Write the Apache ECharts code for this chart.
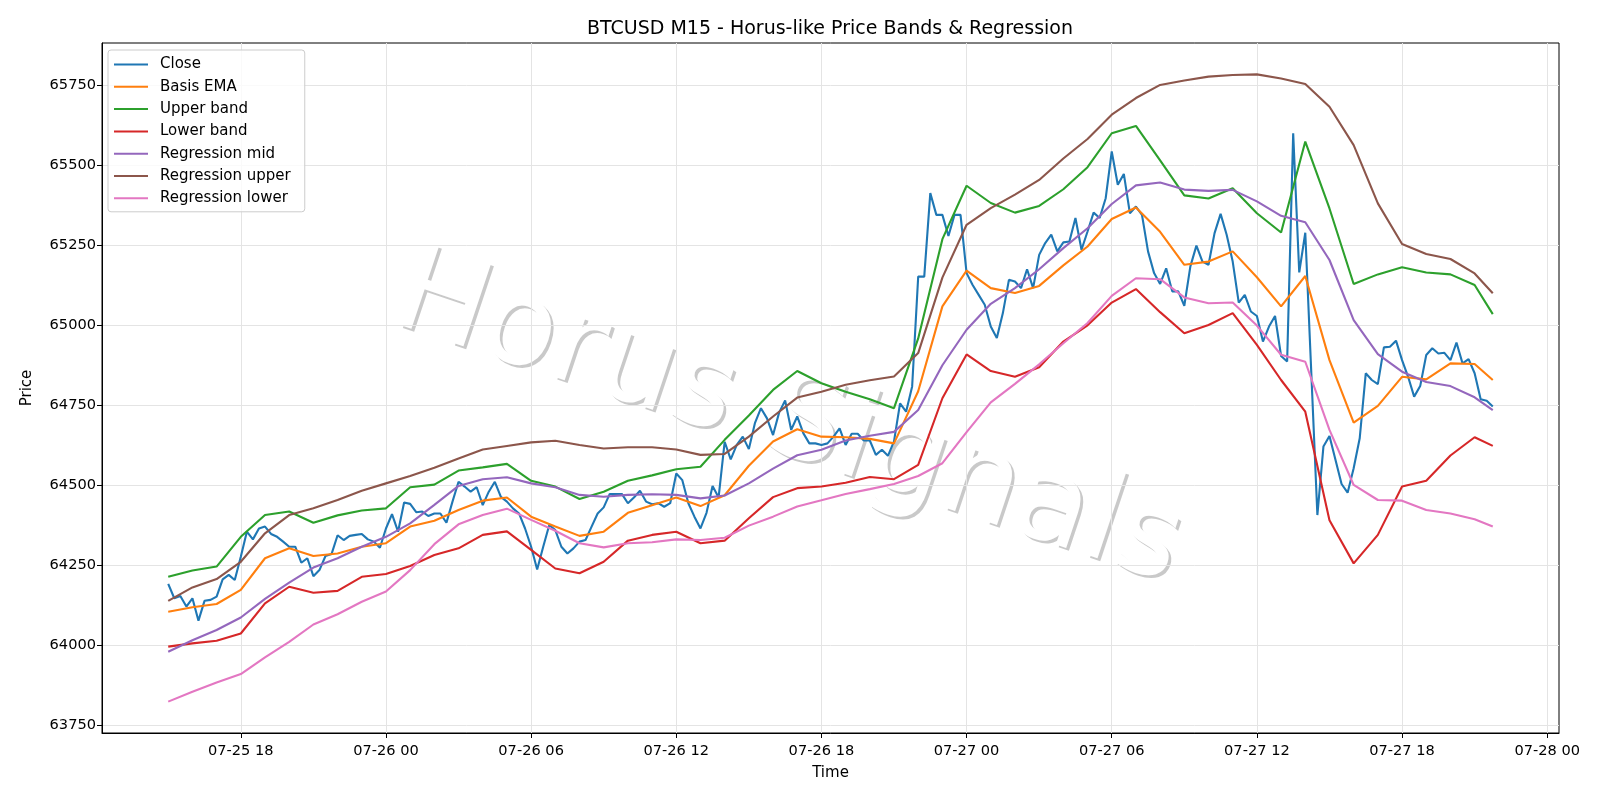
<!DOCTYPE html>
<html>
<head>
<meta charset="utf-8">
<title>BTCUSD M15 - Horus-like Price Bands & Regression</title>
<script src="https://cdn.jsdelivr.net/npm/echarts@6/dist/echarts.min.js"></script>
<style>
html, body { margin: 0; padding: 0; background: #fff; }
#chart { width: 1600px; height: 800px; }
</style>
</head>
<body>
<div id="chart"></div>
<script>
// 15 minute bars, the first one closes 07-25 15:00
const startTime = Date.UTC(2024, 6, 25, 15, 0)
const barMs = 15 * 60 * 1000

const close = [
  64193, 64148, 64155, 64122, 64148, 64078, 64140, 64143, 64153, 64207,
  64221, 64205, 64278, 64356, 64332, 64366, 64372, 64349, 64340, 64325,
  64309, 64309, 64259, 64273, 64217, 64236, 64280, 64286, 64345, 64330,
  64343, 64346, 64349, 64332, 64325, 64306, 64366, 64411, 64356, 64447,
  64443, 64417, 64419, 64405, 64413, 64413, 64384, 64450, 64512, 64497,
  64481, 64495, 64439, 64481, 64512, 64465, 64450, 64429, 64413, 64366,
  64309, 64238, 64309, 64377, 64361, 64309, 64288, 64304, 64325, 64330,
  64372, 64413, 64432, 64474, 64474, 64474, 64445, 64463, 64484, 64450,
  64442, 64445, 64434, 64445, 64538, 64517, 64445, 64403, 64366, 64415,
  64499, 64463, 64637, 64582, 64627, 64653, 64614, 64695, 64742, 64710,
  64658, 64728, 64766, 64674, 64716, 64664, 64632, 64632, 64627, 64632,
  64653, 64679, 64627, 64662, 64662, 64641, 64641, 64596, 64612, 64593,
  64638, 64757, 64731, 64810, 65153, 65153, 65414, 65346, 65346, 65280,
  65346, 65346, 65164, 65127, 65096, 65065, 64997, 64961, 65039, 65143,
  65138, 65117, 65176, 65117, 65221, 65258, 65284, 65232, 65260, 65263,
  65336, 65237, 65294, 65353, 65336, 65398, 65544, 65440, 65474, 65351,
  65372, 65346, 65232, 65164, 65130, 65179, 65107, 65107, 65062, 65185,
  65250, 65200, 65190, 65289, 65349, 65284, 65200, 65072, 65096, 65044,
  65030, 64950, 64997, 65030, 64905, 64888, 65601, 65166, 65290, 64850,
  64408, 64622, 64655, 64580, 64505, 64478, 64554, 64648, 64851, 64830,
  64817, 64932, 64934, 64953, 64892, 64840, 64778, 64811, 64908, 64929,
  64913, 64915, 64892, 64947, 64882, 64895, 64851, 64770, 64765, 64747
]

// the smooth lines are read once an hour (every 4th bar) plus the last bar
const bandBars = [
  0, 4, 8, 12, 16, 20, 24, 28, 32, 36, 40, 44, 48, 52, 56, 60, 64, 68, 72, 76,
  80, 84, 88, 92, 96, 100, 104, 108, 112, 116, 120, 124, 128, 132, 136, 140,
  144, 148, 152, 156, 160, 164, 168, 172, 176, 180, 184, 188, 192, 196, 200,
  204, 208, 212, 216, 219
]
const basisEma = [
  64106, 64120, 64130, 64174, 64273, 64304, 64280, 64288, 64309, 64320,
  64372, 64390, 64424, 64453, 64463, 64403, 64372, 64343, 64356, 64415,
  64439, 64463, 64436, 64470, 64562, 64638, 64676, 64653, 64651, 64646,
  64632, 64795, 65060, 65172, 65117, 65102, 65124, 65188, 65247, 65333,
  65369, 65293, 65190, 65200, 65232, 65151, 65060, 65155, 64892, 64697,
  64749, 64840, 64832, 64882, 64880, 64830
]
const upperBand = [
  64215, 64235, 64247, 64340, 64408, 64419, 64384, 64407, 64422, 64429,
  64495, 64503, 64547, 64557, 64568, 64515, 64497, 64458, 64481, 64515,
  64532, 64551, 64559, 64643, 64719, 64799, 64858, 64820, 64793, 64770,
  64742, 64960, 65270, 65437, 65383, 65353, 65374, 65426, 65495, 65601,
  65624, 65516, 65407, 65397, 65429, 65351, 65291, 65575, 65366, 65130,
  65160, 65182, 65166, 65160, 65127, 65036
]
const lowerBand = [
  63997, 64007, 64015, 64038, 64132, 64184, 64165, 64171, 64215, 64224,
  64249, 64283, 64304, 64346, 64357, 64299, 64241, 64226, 64262, 64328,
  64346, 64356, 64320, 64328, 64398, 64464, 64492, 64497, 64509, 64527,
  64520, 64565, 64773, 64910, 64858, 64840, 64870, 64950, 65001, 65072,
  65114, 65042, 64976, 65002, 65039, 64940, 64830, 64731, 64392, 64257,
  64346, 64497, 64515, 64594, 64651, 64624
]
const regMid = [
  63981, 64017, 64049, 64088, 64146, 64197, 64244, 64273, 64309, 64340,
  64382, 64440, 64499, 64520, 64526, 64507, 64495, 64471, 64465, 64471,
  64473, 64471, 64460, 64469, 64507, 64553, 64595, 64612, 64641, 64656,
  64668, 64736, 64876, 64987, 65068, 65117, 65176, 65242, 65304, 65380,
  65438, 65447, 65425, 65421, 65424, 65388, 65343, 65323, 65205, 65017,
  64911, 64856, 64824, 64811, 64776, 64736
]
const regUpper = [
  64140, 64182, 64208, 64262, 64351, 64408, 64429, 64455, 64484, 64507,
  64530, 64556, 64585, 64613, 64624, 64635, 64640, 64627, 64616, 64620,
  64620, 64613, 64596, 64599, 64653, 64716, 64775, 64793, 64815, 64829,
  64841, 64914, 65150, 65315, 65367, 65409, 65455, 65522, 65583, 65659,
  65711, 65752, 65766, 65778, 65783, 65785, 65772, 65755, 65684, 65564,
  65382, 65255, 65224, 65208, 65163, 65101
]
const regLower = [
  63825, 63856, 63885, 63911, 63963, 64012, 64066, 64098, 64137, 64169,
  64236, 64317, 64379, 64408, 64428, 64393, 64359, 64320, 64307, 64320,
  64323, 64332, 64330, 64337, 64375, 64403, 64435, 64454, 64474, 64489,
  64505, 64530, 64570, 64667, 64760, 64818, 64879, 64945, 65008, 65093,
  65148, 65145, 65088, 65070, 65072, 65000, 64909, 64887, 64674, 64502,
  64455, 64453, 64424, 64413, 64395, 64372
]

const xTickLabels = [
  '2024-07-25T18:00Z', '2024-07-26T00:00Z', '2024-07-26T06:00Z', '2024-07-26T12:00Z',
  '2024-07-26T18:00Z', '2024-07-27T00:00Z', '2024-07-27T06:00Z', '2024-07-27T12:00Z',
  '2024-07-27T18:00Z', '2024-07-28T00:00Z'
]
const yTickLabels = [63750, 64000, 64250, 64500, 64750, 65000, 65250, 65500, 65750]

const FONT = 'DejaVu Sans'
const barTime = i => startTime + i * barMs
const pad = n => String(n).padStart(2, '0')
const fmtTime = v => {
  const d = new Date(v)
  return pad(d.getUTCMonth() + 1) + '-' + pad(d.getUTCDate()) + ' ' + pad(d.getUTCHours())
}

// matplotlib style 5% margins around the data
const tFirst = barTime(0)
const tLast = barTime(close.length - 1)
const xMin = tFirst - (tLast - tFirst) * 0.05
const xMax = tLast + (tLast - tFirst) * 0.05
const allVals = [].concat(close, basisEma, upperBand, lowerBand, regMid, regUpper, regLower)
const vMin = Math.min(...allVals)
const vMax = Math.max(...allVals)
const yMin = vMin - (vMax - vMin) * 0.05
const yMax = vMax + (vMax - vMin) * 0.05

const xTickTimes = xTickLabels.map(s => Date.parse(s))

const makeLine = (name, color, data) => ({
  name,
  type: 'line',
  data,
  showSymbol: false,
  symbol: 'none',
  lineStyle: { color, width: 2.1 },
  itemStyle: { color },
  z: 3
})
const bandData = arr => bandBars.map((b, j) => [barTime(b), arr[j]])

const myChart = echarts.init(document.getElementById('chart'), null, { renderer: 'canvas' })

// watermark: white text over a light offset shadow, kept under the grid
const wmX = 788
const wmY = 422
const wmRot = -18.5 * Math.PI / 180
const wmSize = 120

myChart.setOption({
  animation: false,
  backgroundColor: '#fff',
  textStyle: { fontFamily: FONT },
  title: {
    text: 'BTCUSD M15 - Horus-like Price Bands & Regression',
    left: 825,
    top: 15,
    textAlign: 'center',
    textStyle: { fontFamily: FONT, fontSize: 19, fontWeight: 'normal', color: '#000' }
  },
  legend: {
    orient: 'vertical',
    left: 108,
    top: 50,
    padding: [7, 14, 6, 6],
    itemGap: 7.3,
    itemWidth: 34,
    itemHeight: 2,
    icon: 'rect',
    backgroundColor: 'rgba(255,255,255,0.8)',
    borderColor: '#cccccc',
    borderWidth: 1,
    borderRadius: 3,
    textStyle: { fontFamily: FONT, fontSize: 15, color: '#000', padding: [0, 0, 0, 7] },
    data: ['Close', 'Basis EMA', 'Upper band', 'Lower band', 'Regression mid', 'Regression upper', 'Regression lower']
  },
  grid: {
    left: 102, right: 41, top: 43, bottom: 67,
    show: true, borderColor: '#000', borderWidth: 1,
    outerBoundsMode: 'none'
  },
  xAxis: {
    type: 'value',
    min: xMin,
    max: xMax,
    name: 'Time',
    nameLocation: 'middle',
    nameGap: 33,
    nameTextStyle: { fontFamily: FONT, fontSize: 15, color: '#000' },
    axisLine: { show: true, onZero: false, lineStyle: { color: '#000', width: 1 } },
    axisTick: { show: true, length: 5, lineStyle: { color: '#000' }, customValues: xTickTimes },
    axisLabel: { customValues: xTickTimes, formatter: fmtTime, fontFamily: FONT, fontSize: 14.6, color: '#000', margin: 11 },
    splitLine: { show: true, lineStyle: { color: '#e4e4e4', width: 1 } }
  },
  yAxis: {
    type: 'value',
    min: yMin,
    max: yMax,
    name: 'Price',
    nameLocation: 'middle',
    nameGap: 67,
    nameTextStyle: { fontFamily: FONT, fontSize: 15, color: '#000' },
    axisLine: { show: true, lineStyle: { color: '#000', width: 1 } },
    axisTick: { show: true, length: 5, lineStyle: { color: '#000' }, customValues: yTickLabels },
    axisLabel: { customValues: yTickLabels, formatter: v => String(v), fontFamily: FONT, fontSize: 14.6, color: '#000', margin: 6 },
    splitLine: { show: true, lineStyle: { color: '#e4e4e4', width: 1 } }
  },
  graphic: [
    {
      type: 'text', z: -2, x: wmX + 2.8, y: wmY + 2.8, rotation: wmRot, silent: true,
      style: {
        text: 'Horus Signals', x: 0, y: 0, align: 'center', verticalAlign: 'middle',
        fontFamily: FONT, fontSize: wmSize, fill: 'rgba(77,77,77,0.3)'
      }
    },
    {
      type: 'text', z: -1, x: wmX, y: wmY, rotation: wmRot, silent: true,
      style: {
        text: 'Horus Signals', x: 0, y: 0, align: 'center', verticalAlign: 'middle',
        fontFamily: FONT, fontSize: wmSize, fill: '#ffffff'
      }
    }
  ],
  series: [
    makeLine('Close', '#1f77b4', close.map((v, i) => [barTime(i), v])),
    makeLine('Basis EMA', '#ff7f0e', bandData(basisEma)),
    makeLine('Upper band', '#2ca02c', bandData(upperBand)),
    makeLine('Lower band', '#d62728', bandData(lowerBand)),
    makeLine('Regression mid', '#9467bd', bandData(regMid)),
    makeLine('Regression upper', '#8c564b', bandData(regUpper)),
    makeLine('Regression lower', '#e377c2', bandData(regLower))
  ]
})

window.onresize = function () {
  myChart.resize()
}
</script>
</body>
</html>
